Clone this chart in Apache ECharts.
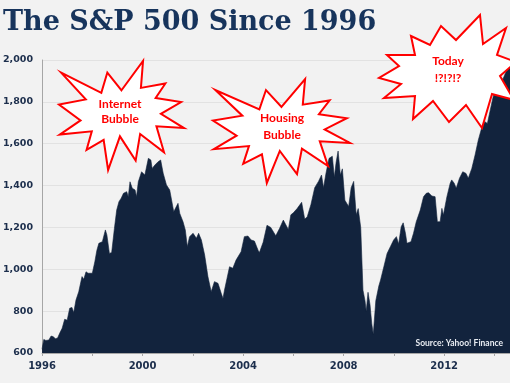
<!DOCTYPE html>
<html><head><meta charset="utf-8">
<script src="https://cdn.jsdelivr.net/npm/echarts@6/dist/echarts.min.js"></script>
<style>html,body{margin:0;padding:0;background:#f2f2f2}#c{width:510px;height:383px}</style>
</head><body><div id="c"></div>
<script>
// ---- data (decimal year, index level) ----
const years = [
1996.00,1996.03,1996.07,1996.15,1996.27,1996.36,1996.45,1996.53,1996.62,1996.70,1996.80,1996.90,
1997.00,1997.10,1997.19,1997.26,1997.35,1997.46,1997.59,1997.66,1997.75,1997.83,1997.90,
1998.00,1998.10,1998.18,1998.26,1998.40,1998.46,1998.52,1998.58,1998.68,1998.77,1998.88,1998.97,
1999.06,1999.15,1999.24,1999.37,1999.43,1999.50,1999.59,1999.70,1999.76,1999.83,1999.96,
2000.09,2000.23,2000.33,2000.38,2000.49,2000.62,2000.72,2000.82,2000.95,
2001.08,2001.15,2001.24,2001.41,2001.48,2001.61,2001.70,2001.78,2001.87,
2002.01,2002.14,2002.23,2002.34,2002.47,2002.60,2002.73,2002.86,
2003.00,2003.13,2003.20,2003.26,2003.46,2003.59,2003.72,2003.92,
2004.05,2004.19,2004.32,2004.45,2004.60,2004.65,2004.80,2004.95,
2005.10,2005.30,2005.45,2005.60,2005.80,2005.90,
2006.00,2006.15,2006.33,2006.45,2006.55,2006.70,2006.85,
2007.00,2007.12,2007.20,2007.30,2007.42,2007.55,2007.63,2007.70,2007.78,2007.87,2007.95,
2008.05,2008.20,2008.30,2008.40,2008.50,2008.58,2008.68,2008.77,2008.85,2008.90,2008.97,
2009.05,2009.12,2009.18,2009.28,2009.40,2009.47,2009.60,2009.73,2009.86,2009.99,
2010.10,2010.19,2010.29,2010.37,2010.46,2010.52,2010.68,2010.78,2010.89,
2011.05,2011.18,2011.29,2011.38,2011.51,2011.64,2011.73,2011.84,2011.91,2011.97,
2012.11,2012.24,2012.30,2012.40,2012.48,2012.61,2012.74,2012.87,2012.96,
2013.10,2013.23,2013.36,2013.49,2013.62,2013.72,2013.82,2013.95,
2014.02,2014.15,2014.25,2014.35,2014.46,2014.55,2014.62
];
const values = [
618,640,665,660,662,681,678,668,672,694,718,761,
757,814,818,793,853,893,965,952,988,981,988,
981,1036,1090,1124,1132,1124,1188,1164,1076,1080,1196,1283,
1323,1340,1363,1371,1347,1418,1387,1379,1347,1418,1466,
1450,1530,1522,1482,1498,1514,1522,1459,1403,
1379,1379,1275,1315,1267,1227,1188,1108,1156,
1172,1148,1172,1140,1068,965,893,941,
933,885,861,901,1012,1005,1044,1084,
1156,1159,1140,1135,1090,1080,1130,1210,
1200,1160,1195,1235,1190,1260,
1270,1290,1320,1240,1250,1310,1390,
1420,1450,1390,1460,1530,1540,1440,1510,1565,1450,1480,
1330,1300,1390,1420,1260,1290,1200,900,850,800,890,
830,740,690,850,920,949,1012,1076,1108,1140,
1156,1121,1203,1222,1172,1124,1132,1172,1227,
1283,1347,1363,1366,1350,1347,1227,1227,1291,1259,
1347,1411,1427,1411,1387,1435,1466,1458,1435,
1482,1546,1618,1674,1705,1697,1753,1825,
1857,1857,1904,1912,1944,1984,2000
];
const yMin = 600, yMax = 2000, yStep = 200;
const xMin = 1996, xMax = 2014.62, xStep = 2;
const xLabelYears = [1996, 2000, 2004, 2008, 2012];
const titleText = 'The S&P 500 Since 1996';
const sourceText = 'Source: Yahoo! Finance';
const calloutTexts = ['Internet\nBubble', 'Housing\nBubble', 'Today\n!?!?!?'];

// ---- decoration shapes (explosion callouts) ----
const seal = [[10800,5800],[14522,0],[14155,5325],[18380,4457],[16702,7315],[21097,8137],[17607,10475],[21600,13290],[16837,12942],[18145,18095],[14020,14457],[13247,19737],[10532,14935],[8485,21600],[7715,15627],[4762,17617],[5667,13937],[135,14587],[3722,11775],[0,8615],[4627,7617],[370,2295],[7312,6320],[8352,2295]];
function sealPts(x, y, w, h) { return seal.map(p => [x + p[0] / 21600 * w, y + p[1] / 21600 * h]); }
const star3 = [[411,36],[430,45],[441,26],[456,40],[480,15],[483,44],[506,28],[497,55],[516,62],[500,76],[514,100],[492,94],[482,128],[466,105],[449,122],[433,101],[413,119],[415,96],[384,98],[401,84],[379,78],[399,66],[387,55],[415,55]];
const stars = [sealPts(59, 61, 125, 109), sealPts(213, 79, 137, 104), star3];
const textPos = [[120, 112, 15], [282, 127, 17], [448, 70, 17]];

const chart = echarts.init(document.getElementById('c'));
const graphics = [];
stars.forEach(pts => graphics.push({ type: 'polygon', z: 100, shape: { points: pts }, style: { fill: '#ffffff', stroke: '#ff0000', lineWidth: 2, lineJoin: 'miter' } }));
calloutTexts.forEach((t, i) => graphics.push({ type: 'text', z: 101, x: textPos[i][0], y: textPos[i][1], style: { text: t, fill: '#ff0000', font: 'bold 12px Lato', align: 'center', verticalAlign: 'middle', lineHeight: textPos[i][2] } }));
graphics.push({ type: 'text', z: 101, x: 503, y: 343, style: { text: sourceText, fill: '#e8ecf2', font: 'bold 8.5px Lato', align: 'right', verticalAlign: 'middle' } });

chart.setOption({
  backgroundColor: '#f2f2f2',
  animation: false,
  title: { text: titleText, left: 3, top: 9, padding: 0, textStyle: { fontFamily: 'DejaVu Serif', fontWeight: 'bold', fontSize: 27, color: '#17345c' } },
  grid: { left: 40, right: 0, top: 60, bottom: 30 },
  xAxis: {
    type: 'value', min: xMin, max: xMax, interval: xStep,
    axisLine: { lineStyle: { color: '#a6a6a6', width: 1 } },
    axisTick: { show: true, length: 3, lineStyle: { color: '#a6a6a6' } },
    splitLine: { show: false },
    axisLabel: { showMaxLabel: false, margin: 8, color: '#1c2e4c', fontFamily: 'DejaVu Sans', fontWeight: 'bold', fontSize: 10,
      formatter: v => xLabelYears.indexOf(v) >= 0 ? String(v) : '' }
  },
  yAxis: {
    type: 'value', min: yMin, max: yMax, interval: yStep,
    axisLine: { show: true, lineStyle: { color: '#a6a6a6', width: 1 } },
    axisTick: { show: false },
    splitLine: { show: true, lineStyle: { color: '#e2e2e2', width: 1 } },
    axisLabel: { margin: 9, color: '#1c2e4c', fontFamily: 'DejaVu Sans', fontWeight: 'bold', fontSize: 9.5,
      formatter: v => v.toLocaleString('en-US') }
  },
  series: [{
    type: 'line', data: years.map((y, i) => [y, values[i]]), showSymbol: false, symbol: 'none',
    lineStyle: { width: 0.6, color: '#12233d' },
    areaStyle: { color: '#12233d', opacity: 1, origin: 'start' }
  }],
  graphic: graphics
});
</script></body></html>
